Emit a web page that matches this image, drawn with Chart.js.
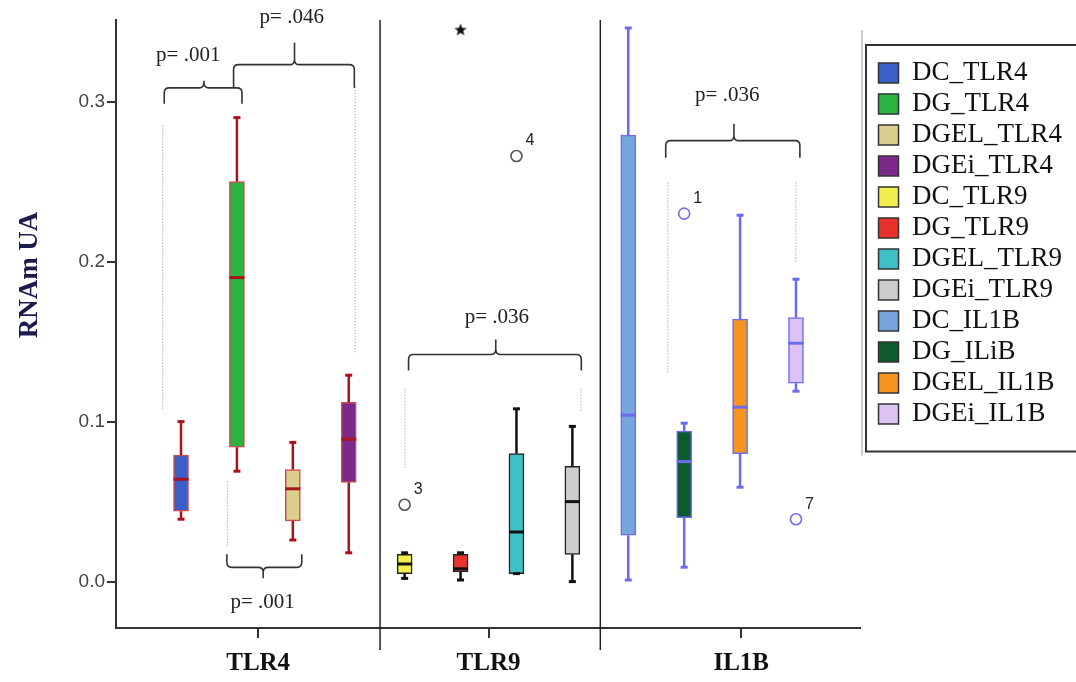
<!DOCTYPE html>
<html>
<head>
<meta charset="utf-8">
<script src="https://cdn.jsdelivr.net/npm/chart.js@4.4.1/dist/chart.umd.min.js"></script>
<style>
  html, body { margin: 0; padding: 0; background: #fff; }
  canvas { display: block; }
</style>
</head>
<body>
<canvas id="myChart" width="1076" height="682"></canvas>
<script>
// box names, one box per dataset
const boxNames = ['DC_TLR4', 'DG_TLR4', 'DGEL_TLR4', 'DGEi_TLR4',
                  'DC_TLR9', 'DG_TLR9', 'DGEL_TLR9', 'DGEi_TLR9',
                  'DC_IL1B', 'DG_ILiB', 'DGEL_IL1B', 'DGEi_IL1B'];
const groupLabels = ['TLR4', 'TLR9', 'IL1B'];

// five number summaries
const whiskerLow  = [0.039, 0.069, 0.026, 0.018, 0.002, 0.001, 0.005, 0.000, 0.001, 0.009, 0.059, 0.119];
const q1          = [0.044, 0.084, 0.038, 0.062, 0.005, 0.006, 0.005, 0.017, 0.029, 0.040, 0.080, 0.124];
const median      = [0.064, 0.190, 0.058, 0.089, 0.011, 0.008, 0.031, 0.050, 0.104, 0.075, 0.109, 0.149];
const q3          = [0.079, 0.250, 0.070, 0.112, 0.017, 0.017, 0.080, 0.072, 0.279, 0.094, 0.164, 0.165];
const whiskerHigh = [0.100, 0.290, 0.087, 0.129, 0.018, 0.018, 0.108, 0.097, 0.346, 0.099, 0.229, 0.189];

// outliers (circles) and extreme value (star)
const outlierBox    = [4, 6, 9, 11];
const outlierValues = [0.048, 0.266, 0.230, 0.039];
const outlierIds    = ['3', '4', '1', '7'];
const extremeBox    = [5];
const extremeValues = [0.345];

const yTicks = [0.0, 0.1, 0.2, 0.3];

// styling
const boxFill = ['#3a5fc8', '#2cb443', '#dccf8e', '#7b2a8c',
                 '#f2ee4e', '#e8322e', '#3fc0c6', '#cccccc',
                 '#77a5dd', '#0d5a2e', '#f6951e', '#dcc3f3'];
const boxEdge = ['#cf4a4a', '#222222', '#6b6bf0'];
const lineColors = ['#a8141c', '#111111', '#6b6bf0'];
const outlierColors = ['#555555', '#555555', '#7070e8', '#7070e8'];

// layout of the annotations (x in box-index units, y in axis units)
const groupTickPos = [1.38, 5.5, 10.02];
const panelBreaks = [3.56, 7.5];
const brackets = [
  { text: 'p= .001', x1: -0.30, x2: 1.09, xm: 0.41, y: 0.3086, end: 16, tip: -7,  tx: 0.13, ty: 0.329 },
  { text: 'p= .046', x1: 0.94,  x2: 3.10, xm: 2.03, y: 0.3231, end: 23, tip: -22, tx: 1.98, ty: 0.3525 },
  { text: 'p= .001', x1: 0.82,  x2: 2.16, xm: 1.47, y: 0.0089, end: -13, tip: 11, tx: 1.46, ty: -0.0129 },
  { text: 'p= .036', x1: 4.07,  x2: 7.16, xm: 5.63, y: 0.1419, end: 16, tip: -15, tx: 5.65, ty: 0.1652 },
  { text: 'p= .036', x1: 8.67,  x2: 11.07, xm: 9.89, y: 0.2756, end: 17, tip: -17, tx: 9.77, ty: 0.3038 }
];
const guides = [[-0.327, 0.285, 0.107], [3.113, 0.309, 0.1425], [0.828, 0.0625, 0.0214],
                [4.007, 0.1206, 0.0706], [7.156, 0.1206, 0.1058],
                [8.707, 0.2494, 0.13], [10.997, 0.2494, 0.2]];

const legendPadRight = 4;
const plotRight = 860;

// small filled star for the extreme value
const starIcon = document.createElement('canvas');
starIcon.width = 14;
starIcon.height = 14;
(function () {
  const c = starIcon.getContext('2d');
  c.fillStyle = '#111';
  c.beginPath();
  for (let k = 0; k < 10; k++) {
    const r = k % 2 === 0 ? 6.5 : 2.8;
    const a = -Math.PI / 2 + k * Math.PI / 5;
    const px = 7 + r * Math.cos(a), py = 7.5 + r * Math.sin(a);
    if (k === 0) c.moveTo(px, py); else c.lineTo(px, py);
  }
  c.closePath();
  c.fill();
})();

function line(ctx, x1, y1, x2, y2) {
  ctx.beginPath();
  ctx.moveTo(x1, y1);
  ctx.lineTo(x2, y2);
  ctx.stroke();
}

function brace(ctx, x1, x2, xm, yl, yEnd, yTip) {
  const s = Math.sign(yEnd - yl), r = 5;
  ctx.beginPath();
  ctx.moveTo(x1, yEnd);
  ctx.lineTo(x1, yl + s * r);
  ctx.quadraticCurveTo(x1, yl, x1 + r, yl);
  ctx.lineTo(xm - r, yl);
  ctx.quadraticCurveTo(xm, yl, xm, yl - s * r);
  ctx.lineTo(xm, yTip);
  ctx.moveTo(xm, yl - s * r);
  ctx.quadraticCurveTo(xm, yl, xm + r, yl);
  ctx.lineTo(x2 - r, yl);
  ctx.quadraticCurveTo(x2, yl, x2, yl + s * r);
  ctx.lineTo(x2, yEnd);
  ctx.stroke();
}

const boxExtras = {
  id: 'boxExtras',
  afterDatasetsDraw(chart) {
    const ctx = chart.ctx;
    const xs = chart.scales.x, ys = chart.scales.y, area = chart.chartArea;
    ctx.save();

    // panel separators
    ctx.strokeStyle = '#222';
    ctx.lineWidth = 1.5;
    panelBreaks.forEach(p => {
      const px = xs.getPixelForValue(p);
      line(ctx, px, area.top, px, area.bottom + 22);
    });

    // whiskers, caps and medians
    boxNames.forEach((name, i) => {
      const bar = chart.getDatasetMeta(i).data[0];
      const cx = bar.x, half = bar.width / 2;
      const g = Math.floor(i / 4);
      const yHi = ys.getPixelForValue(whiskerHigh[i]);
      const yLo = ys.getPixelForValue(whiskerLow[i]);
      ctx.strokeStyle = lineColors[g];
      ctx.lineWidth = 2.5;
      line(ctx, cx, ys.getPixelForValue(q3[i]), cx, yHi);
      line(ctx, cx, ys.getPixelForValue(q1[i]), cx, yLo);
      ctx.lineWidth = 3;
      line(ctx, cx - 3.5, yHi, cx + 3.5, yHi);
      line(ctx, cx - 3.5, yLo, cx + 3.5, yLo);
      const ym = ys.getPixelForValue(median[i]);
      line(ctx, cx - half, ym, cx + half, ym);
    });

    // dotted guides
    ctx.strokeStyle = '#8a8a8a';
    ctx.lineWidth = 1;
    ctx.setLineDash([1, 2]);
    guides.forEach(gd => {
      const px = xs.getPixelForValue(gd[0]);
      line(ctx, px, ys.getPixelForValue(gd[1]), px, ys.getPixelForValue(gd[2]));
    });
    ctx.setLineDash([]);

    // brackets with p values
    ctx.strokeStyle = '#333';
    ctx.lineWidth = 1.6;
    ctx.fillStyle = '#222';
    ctx.font = '21px "Liberation Serif"';
    ctx.textAlign = 'center';
    ctx.textBaseline = 'middle';
    brackets.forEach(b => {
      const yl = ys.getPixelForValue(b.y);
      brace(ctx, xs.getPixelForValue(b.x1), xs.getPixelForValue(b.x2), xs.getPixelForValue(b.xm),
            yl, yl + b.end, yl + b.tip);
      ctx.fillText(b.text, xs.getPixelForValue(b.tx), ys.getPixelForValue(b.ty));
    });

    // outlier case numbers
    ctx.font = '16px "Liberation Sans"';
    ctx.textAlign = 'left';
    outlierBox.forEach((bx, k) => {
      ctx.fillText(outlierIds[k], xs.getPixelForValue(bx) + 9, ys.getPixelForValue(outlierValues[k]) - 15);
    });

    // y axis title
    ctx.save();
    ctx.translate(30, 275);
    ctx.rotate(-Math.PI / 2);
    ctx.font = 'bold 27px "Liberation Serif"';
    ctx.fillStyle = '#1b1b4d';
    ctx.textAlign = 'center';
    ctx.fillText('RNAm UA', 0, 0);
    ctx.restore();

    ctx.restore();
  },
  afterDraw(chart) {
    // frame round the legend
    const lg = chart.legend;
    const hb = lg.legendHitBoxes;
    if (!hb || !hb.length) return;
    const ctx = chart.ctx;
    const top = hb[0].top - 14.5;
    const bottom = hb[hb.length - 1].top + hb[hb.length - 1].height + 24;
    const left = chart.chartArea.right + 6;
    ctx.save();
    ctx.strokeStyle = '#999';
    ctx.lineWidth = 1;
    line(ctx, left - 4, top - 15, left - 4, bottom + 4);
    ctx.strokeStyle = '#333';
    ctx.lineWidth = 2;
    ctx.strokeRect(left, top, chart.width - left + 5, bottom - top);
    ctx.restore();
  }
};

const boxSets = boxNames.map((name, i) => ({
  label: name,
  data: [{ x: i, y: [q1[i], q3[i]] }],
  backgroundColor: boxFill[i],
  borderColor: boxEdge[Math.floor(i / 4)],
  borderWidth: 1.5,
  borderSkipped: false,
  barThickness: 15,
  grouped: false
}));

const outlierSet = {
  type: 'scatter',
  label: 'outliers',
  data: outlierBox.map((bx, k) => ({ x: bx, y: outlierValues[k] })),
  pointStyle: 'circle',
  pointRadius: 5.5,
  pointBorderWidth: 1.6,
  pointBackgroundColor: '#fff',
  pointBorderColor: outlierColors
};

const extremeSet = {
  type: 'scatter',
  label: 'extremes',
  data: extremeBox.map((bx, k) => ({ x: bx, y: extremeValues[k] })),
  pointStyle: starIcon,
  pointRadius: 7
};

new Chart('myChart', {
  type: 'bar',
  data: { datasets: [...boxSets, outlierSet, extremeSet] },
  plugins: [boxExtras],
  options: {
    responsive: false,
    animation: false,
    layout: { padding: { top: 20, right: legendPadRight, bottom: 0, left: 0 } },
    plugins: {
      tooltip: { enabled: false },
      legend: {
        position: 'right',
        align: 'start',
        title: { display: true, text: ' ', font: { size: 10 }, padding: { top: 23.5, bottom: 0 } },
        labels: {
          boxWidth: 20,
          boxHeight: 20,
          padding: 4,
          color: '#111',
          font: { family: '"Liberation Serif"', size: 27 },
          generateLabels(chart) {
            const items = Chart.defaults.plugins.legend.labels.generateLabels(chart);
            return items
              .filter(it => it.datasetIndex < boxNames.length)
              .map(it => Object.assign(it, { strokeStyle: '#333', lineWidth: 1.5 }));
          }
        }
      }
    },
    scales: {
      x: {
        type: 'linear',
        min: -1.163,
        max: 12.145,
        offset: false,
        afterBuildTicks: s => { s.ticks = groupTickPos.map(v => ({ value: v })); },
        afterFit: s => { s.height = 54; },
        ticks: {
          autoSkip: false,
          maxRotation: 0,
          padding: 11,
          color: '#111',
          font: { family: '"Liberation Serif"', size: 25, weight: 'bold' },
          callback: (v, idx) => groupLabels[idx]
        },
        grid: { drawOnChartArea: false, offset: false, tickLength: 10, color: '#333', lineWidth: 2 },
        border: { color: '#333', width: 2 }
      },
      y: {
        min: -0.029,
        max: 0.351,
        afterBuildTicks: s => { s.ticks = yTicks.map(v => ({ value: v })); },
        afterFit: s => { s.width = 116; },
        ticks: {
          padding: 2,
          color: '#444',
          font: { family: '"Liberation Sans"', size: 19 },
          callback: v => Number(v).toFixed(1)
        },
        grid: { drawOnChartArea: false, tickLength: 9, color: '#333', lineWidth: 2 },
        border: { color: '#333', width: 2 }
      },
      gap: {
        axis: 'y',
        position: 'right',
        display: false,
        afterFit: s => {
          s.width = Math.max(0, s.chart.width - legendPadRight - s.chart.legend.width - plotRight);
        }
      }
    }
  }
});
</script>
</body>
</html>
